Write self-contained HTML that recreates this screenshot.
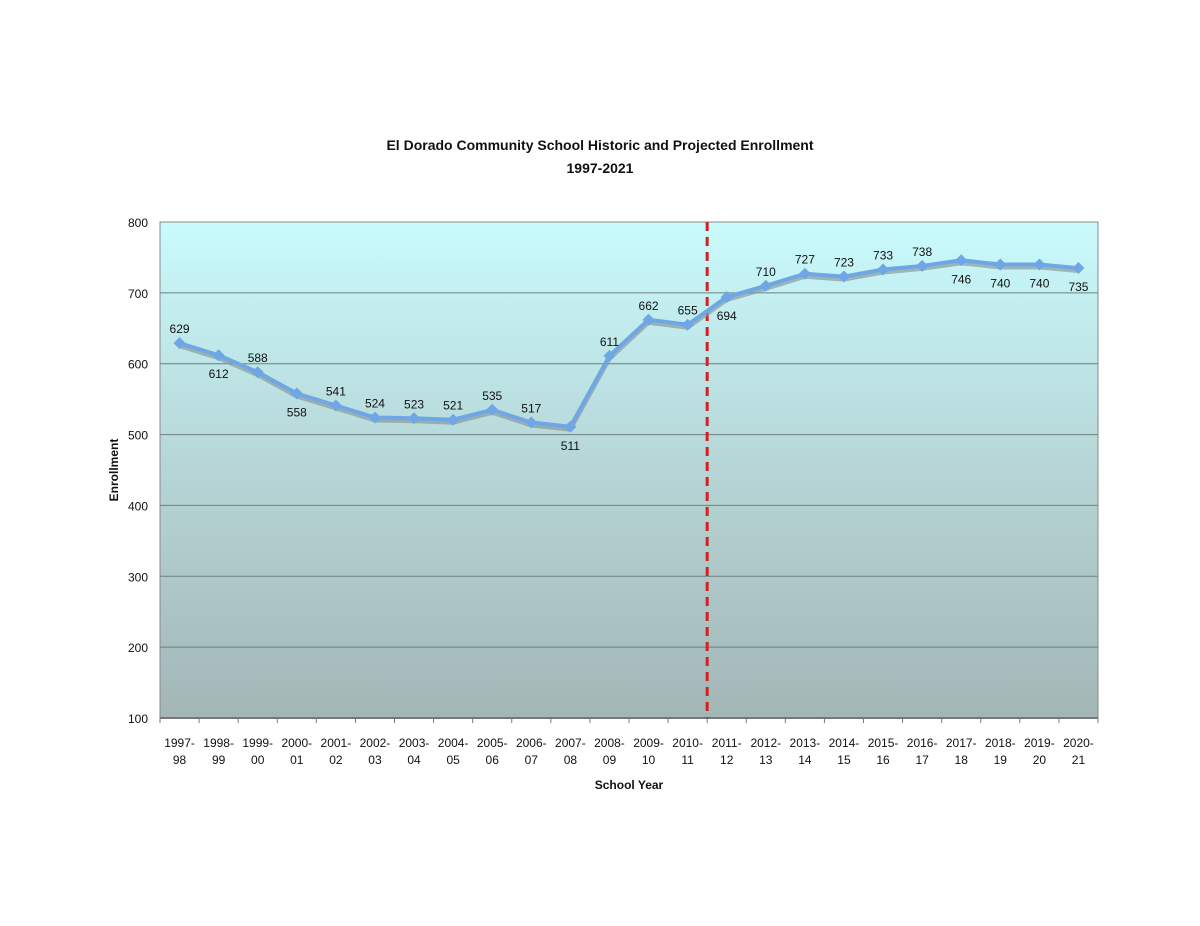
<!DOCTYPE html>
<html><head><meta charset="utf-8"><style>
body{margin:0;background:#fff;}
svg{display:block;font-family:"Liberation Sans",Arial,sans-serif;}
</style></head><body>
<svg width="1200" height="926" viewBox="0 0 1200 926">
<defs>
<linearGradient id="bg" x1="0" y1="0" x2="0" y2="1">
<stop offset="0" stop-color="#c9fbfd"/><stop offset="0.5" stop-color="#b6d5d6"/><stop offset="1" stop-color="#a3b6b6"/>
</linearGradient>
</defs>
<text x="600" y="150" text-anchor="middle" font-size="14" font-weight="bold" fill="#111">El Dorado Community School Historic and Projected Enrollment</text>
<text x="600" y="173" text-anchor="middle" font-size="14" font-weight="bold" fill="#111">1997-2021</text>
<rect x="160" y="222" width="938" height="496" fill="url(#bg)" stroke="#888"/>
<g id="grid"></g>
<g id="axes"></g>
<g id="series"></g>
<text x="629" y="789" text-anchor="middle" font-size="12" font-weight="bold" fill="#111">School Year</text>
<text transform="translate(118,470) rotate(-90)" text-anchor="middle" font-size="12" font-weight="bold" fill="#111">Enrollment</text>
</svg>
<script>
const categories=["1997-|98","1998-|99","1999-|00","2000-|01","2001-|02","2002-|03","2003-|04","2004-|05","2005-|06","2006-|07","2007-|08","2008-|09","2009-|10","2010-|11","2011-|12","2012-|13","2013-|14","2014-|15","2015-|16","2016-|17","2017-|18","2018-|19","2019-|20","2020-|21"];
const enrollment=[629,612,588,558,541,524,523,521,535,517,511,611,662,655,694,710,727,723,733,738,746,740,740,735];
const labelBelow=[0,1,0,1,0,0,0,0,0,0,1,0,0,0,1,0,0,0,0,0,1,1,1,1];
const yTicks=[100,200,300,400,500,600,700,800];
const projectionStartIndex=14;
const NS="http://www.w3.org/2000/svg";
const L=160,R=1098,T=222,B=718,yMin=100,yMax=800;
const bw=(R-L)/categories.length;
const xs=i=>L+bw*(i+0.5);
const ys=v=>B-(v-yMin)/(yMax-yMin)*(B-T);
function mk(tag,attrs,parent){const e=document.createElementNS(NS,tag);for(const k in attrs)e.setAttribute(k,attrs[k]);parent.appendChild(e);return e;}
const grid=document.getElementById('grid'),axes=document.getElementById('axes'),ser=document.getElementById('series');
yTicks.forEach(v=>{
  const y=ys(v);
  if(v>yMin&&v<yMax){const g=mk('line',{x1:L,x2:R,y1:y,y2:y,stroke:'#6f7f7f','stroke-width':1},grid);
  
  }
  const t=mk('text',{x:L-12,y:y+5,'text-anchor':'end','font-size':12,fill:'#111'},axes);t.textContent=v;
  
  
});
mk('line',{x1:L,x2:R,y1:B,y2:B,stroke:'#777','stroke-width':2},axes);
categories.forEach((c,i)=>{
  const x0=L+bw*i;
  mk('line',{x1:x0,x2:x0,y1:B,y2:B+5,stroke:'#777'},axes);
  const p=c.split('|');
  const t=mk('text',{x:xs(i),y:B+29,'text-anchor':'middle','font-size':12,fill:'#111'},axes);t.textContent=p[0];
  
  
  const t2=mk('text',{x:xs(i),y:B+46,'text-anchor':'middle','font-size':12,fill:'#111'},axes);t2.textContent=p[1];
  
  
});
mk('line',{x1:R,x2:R,y1:B,y2:B+5,stroke:'#777'},axes);
const px=L+bw*projectionStartIndex;
const dl=mk('line',{x1:px,x2:px,y1:T,y2:B,stroke:'#d42020','stroke-width':3,'stroke-dasharray':'9,6'},ser);


const pts=enrollment.map((v,i)=>xs(i)+','+ys(v)).join(' ');
const sh=mk('polyline',{points:enrollment.map((v,i)=>xs(i)+','+(ys(v)+3)).join(' '),fill:'none',stroke:'#8a9a9a','stroke-width':4,opacity:0.7},ser);


const ln=mk('polyline',{points:pts,fill:'none',stroke:'#6fa6e6','stroke-width':4},ser);


enrollment.forEach((v,i)=>{
  const x=xs(i),y=ys(v);
  const m=mk('polygon',{points:`${x},${y-6} ${x+6},${y} ${x},${y+6} ${x-6},${y}`,fill:'#6fa6e6'},ser);
  
  
  const t=mk('text',{x:x,y:labelBelow[i]?y+23:y-10,'text-anchor':'middle','font-size':12,fill:'#111'},ser);
  t.textContent=v;
  
  
});
</script>
</body></html>
